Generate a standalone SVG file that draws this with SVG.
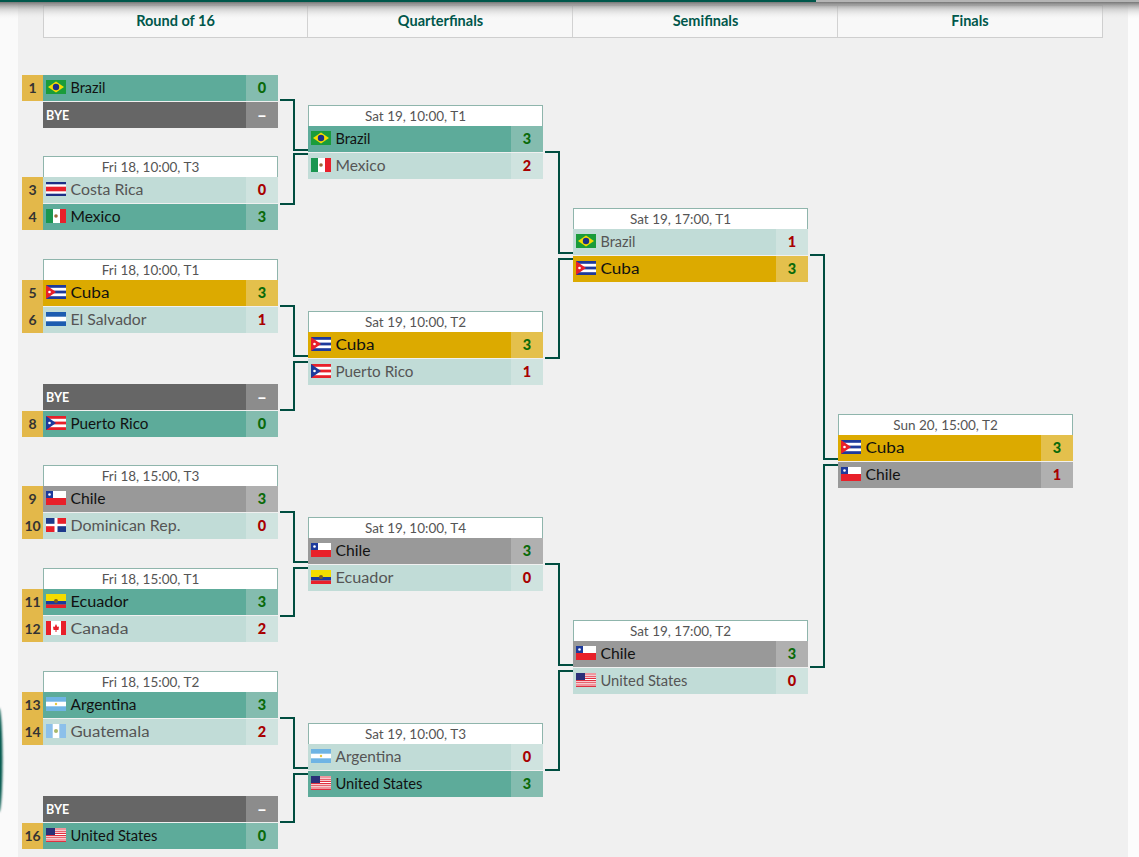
<svg xmlns="http://www.w3.org/2000/svg" width="1139" height="857" viewBox="0 0 1139 857">
<style>
text{font-family:"Lato","Liberation Sans",sans-serif;font-size:14.5px}
.t{fill:#111}.l{fill:#555}.b{fill:#fff;font-weight:700;font-size:12.500px}
.s{font-weight:900;text-anchor:middle}.w{fill:#0a6a0a}.x{fill:#a80000}.d{fill:#fff;text-anchor:middle;font-size:17px;font-weight:900}
.sd{font-weight:700;fill:#333;text-anchor:middle;font-size:14px}
.h{fill:#555;text-anchor:middle;font-size:13.5px}
.rh{fill:#00574b;font-weight:700;text-anchor:middle;font-size:14.5px}
.hb{fill:#fff;stroke:#8fb5ac;stroke-width:1}
.c{fill:none;stroke:#004d40;stroke-width:2}
.tl{fill:#5dab9a}.tls{fill:#84bcaf}.ll{fill:#c1dcd7}.lls{fill:#cfe3df}.gd{fill:#dcaa00}.gds{fill:#e4c04c}.gy{fill:#999}.gys{fill:#b0b0b0}.by{fill:#666}.bys{fill:#8c8c8c}.sc{fill:#e3b84a}
</style>
<defs>
<linearGradient id="sh" x1="0" y1="0" x2="0" y2="1"><stop offset="0" stop-color="#777"/><stop offset=".45" stop-color="#bbb" stop-opacity=".55"/><stop offset="1" stop-color="#f0f0f0" stop-opacity="0"/></linearGradient>
<filter id="bl" x="-100%" y="-10%" width="300%" height="120%"><feGaussianBlur stdDeviation="0.8"/></filter>
<symbol id="br" viewBox="0 0 20 14"><rect width="20" height="14" fill="#1a9c3a"/><path d="M10 1.5 18 7 10 12.500 2 7Z" fill="#f5dc00"/><circle cx="10" cy="7" r="3.200" fill="#1d2f86"/></symbol>
<symbol id="mx" viewBox="0 0 20 14"><rect width="7" height="14" fill="#1a9650"/><rect x="7" width="7" height="14" fill="#fff"/><rect x="14" width="6" height="14" fill="#e8202a"/><circle cx="10" cy="7" r="1.800" fill="#9a6a3a"/></symbol>
<symbol id="cr" viewBox="0 0 20 14"><rect width="20" height="14" fill="#1d2f86"/><rect y="2.300" width="20" height="9.400" fill="#fff"/><rect y="4.700" width="20" height="4.600" fill="#e8202a"/></symbol>
<symbol id="cu" viewBox="0 0 20 14"><rect width="20" height="14" fill="#1d3a9c"/><rect y="2.800" width="20" height="2.800" fill="#fff"/><rect y="8.400" width="20" height="2.800" fill="#fff"/><path d="M0 0 10 7 0 14Z" fill="#e8202a"/><circle cx="3.500" cy="7" r="1.300" fill="#fff"/></symbol>
<symbol id="sv" viewBox="0 0 20 14"><rect width="20" height="14" fill="#1d5cb0"/><rect y="4.700" width="20" height="4.600" fill="#fff"/></symbol>
<symbol id="pr" viewBox="0 0 20 14"><rect width="20" height="14" fill="#e8202a"/><rect y="2.800" width="20" height="2.800" fill="#fff"/><rect y="8.400" width="20" height="2.800" fill="#fff"/><path d="M0 0 10 7 0 14Z" fill="#1d3a9c"/><circle cx="3.500" cy="7" r="1.300" fill="#fff"/></symbol>
<symbol id="cl" viewBox="0 0 20 14"><rect width="20" height="7" fill="#fff"/><rect y="7" width="20" height="7" fill="#e8202a"/><rect width="7" height="7" fill="#1d3a9c"/><circle cx="3.500" cy="3.500" r="1.300" fill="#fff"/></symbol>
<symbol id="do" viewBox="0 0 20 14"><rect width="20" height="14" fill="#fff"/><rect width="8.500" height="5.800" fill="#1d3a8c"/><rect x="11.500" width="8.500" height="5.800" fill="#e8202a"/><rect y="8.200" width="8.500" height="5.800" fill="#e8202a"/><rect x="11.500" y="8.200" width="8.500" height="5.800" fill="#1d3a8c"/></symbol>
<symbol id="ec" viewBox="0 0 20 14"><rect width="20" height="7" fill="#f5dc00"/><rect y="7" width="20" height="3.500" fill="#1d3a9c"/><rect y="10.500" width="20" height="3.500" fill="#e8202a"/><circle cx="10" cy="7" r="2" fill="#7a5a20"/></symbol>
<symbol id="ca" viewBox="0 0 20 14"><rect width="20" height="14" fill="#fff"/><rect width="5" height="14" fill="#e8202a"/><rect x="15" width="5" height="14" fill="#e8202a"/><path d="M10 3 11.500 6 13 5.500 12.500 9 10.500 9 10.500 11 9.500 11 9.500 9 7.500 9 7 5.500 8.500 6Z" fill="#e8202a"/></symbol>
<symbol id="ar" viewBox="0 0 20 14"><rect width="20" height="14" fill="#6fb4e4"/><rect y="4.700" width="20" height="4.600" fill="#fff"/><circle cx="10" cy="7" r="1.200" fill="#e8c840"/></symbol>
<symbol id="gt" viewBox="0 0 20 14"><rect width="20" height="14" fill="#8cc0ea"/><rect x="6.700" width="6.600" height="14" fill="#fff"/><circle cx="10" cy="7" r="2" fill="#a8b86a"/></symbol>
<symbol id="us" viewBox="0 0 20 14"><rect width="20" height="14" fill="#fff"/><path d="M0 1h20M0 3.200h20M0 5.400h20M0 7.600h20M0 9.800h20M0 12h20" stroke="#e03040" stroke-width="1.100"/><rect y="13" width="20" height="1" fill="#e03040"/><rect width="9" height="7" fill="#2a2f78"/></symbol>
</defs>
<rect width="1139" height="857" fill="#f0f0f0"/>
<rect width="18" height="857" fill="#fafafa"/>
<rect x="1128" width="11" height="857" fill="#fcfcfc"/>
<g id="header">
<rect x="43.500" y="5.500" width="1059" height="32" fill="#f8f8f8" stroke="#cfcfcf"/>
<path d="M307.500 5V37M572.500 5V37M837.500 5V37" stroke="#d2d2d2"/>
</g>
<rect y="2" width="1139" height="17" fill="url(#sh)"/>
<rect width="816" height="2" fill="#00574b"/>
<rect x="816" width="323" height="2" fill="#b5b5b5"/>
<ellipse cx="-1" cy="760" rx="3.500" ry="52" fill="#00574b" filter="url(#bl)"/>
<g id="round-labels"><text class="rh" x="175.500" y="26">Round of 16</text><text class="rh" x="440.500" y="26">Quarterfinals</text><text class="rh" x="705.500" y="26">Semifinals</text><text class="rh" x="970" y="26">Finals</text></g>
<g id="connectors">
<path class="c" d="M280 100H294V150H308M280 204H294V154H308"/>
<path class="c" d="M280 306H294V356H308M280 410H294V362H308"/>
<path class="c" d="M280 512H294V562H308M280 616H294V568H308"/>
<path class="c" d="M280 718H294V768H308M280 822H294V774H308"/>
<path class="c" d="M545 152H559V253H573M545 358H559V259H573"/>
<path class="c" d="M545 564H559V665H573M545 770H559V671H573"/>
<path class="c" d="M810 255H824V459H838M810 667H824V465H838"/>
</g>
<g id="m1"><rect class="sc" x="22" y="75" width="21" height="26"/><text class="sd" x="32.500" y="93">1</text><rect class="tl" x="43" y="75" width="203" height="26"/><rect class="tls" x="246" y="75" width="32" height="26"/><use href="#br" x="46" y="80" width="20" height="14"/><text class="t" x="70.500" y="93" textLength="35" lengthAdjust="spacingAndGlyphs">Brazil</text><text class="s w" x="262" y="93">0</text>
<rect class="by" x="43" y="102" width="203" height="26"/><rect class="bys" x="246" y="102" width="32" height="26"/><text class="b" x="46" y="120">BYE</text><text class="d" x="262" y="121">–</text></g>
<g id="m2"><rect class="hb" x="43.500" y="156.500" width="234" height="21"/><text class="h" x="150.500" y="172">Fri 18, 10:00, T3</text><rect class="sc" x="22" y="177" width="21" height="53"/><text class="sd" x="32.500" y="195">3</text><text class="sd" x="32.500" y="222">4</text><rect class="ll" x="43" y="177" width="203" height="26"/><rect class="lls" x="246" y="177" width="32" height="26"/><use href="#cr" x="46" y="182" width="20" height="14"/><text class="l" x="70.500" y="195" textLength="73" lengthAdjust="spacingAndGlyphs">Costa Rica</text><text class="s x" x="262" y="195">0</text><rect class="tl" x="43" y="204" width="203" height="26"/><rect class="tls" x="246" y="204" width="32" height="26"/><use href="#mx" x="46" y="209" width="20" height="14"/><text class="t" x="70.500" y="222" textLength="50" lengthAdjust="spacingAndGlyphs">Mexico</text><text class="s w" x="262" y="222">3</text></g>
<g id="m3"><rect class="hb" x="43.500" y="259.500" width="234" height="21"/><text class="h" x="150.500" y="275">Fri 18, 10:00, T1</text><rect class="sc" x="22" y="280" width="21" height="53"/><text class="sd" x="32.500" y="298">5</text><text class="sd" x="32.500" y="325">6</text><rect class="gd" x="43" y="280" width="203" height="26"/><rect class="gds" x="246" y="280" width="32" height="26"/><use href="#cu" x="46" y="285" width="20" height="14"/><text class="t" x="70.500" y="298" textLength="39" lengthAdjust="spacingAndGlyphs">Cuba</text><text class="s w" x="262" y="298">3</text><rect class="ll" x="43" y="307" width="203" height="26"/><rect class="lls" x="246" y="307" width="32" height="26"/><use href="#sv" x="46" y="312" width="20" height="14"/><text class="l" x="70.500" y="325" textLength="76" lengthAdjust="spacingAndGlyphs">El Salvador</text><text class="s x" x="262" y="325">1</text></g>
<g id="m4"><rect class="by" x="43" y="384" width="203" height="26"/><rect class="bys" x="246" y="384" width="32" height="26"/><text class="b" x="46" y="402">BYE</text><text class="d" x="262" y="403">–</text><rect class="sc" x="22" y="411" width="21" height="26"/><text class="sd" x="32.500" y="429">8</text><rect class="tl" x="43" y="411" width="203" height="26"/><rect class="tls" x="246" y="411" width="32" height="26"/><use href="#pr" x="46" y="416" width="20" height="14"/><text class="t" x="70.500" y="429" textLength="78" lengthAdjust="spacingAndGlyphs">Puerto Rico</text><text class="s w" x="262" y="429">0</text></g>
<g id="m5"><rect class="hb" x="43.500" y="465.500" width="234" height="21"/><text class="h" x="150.500" y="481">Fri 18, 15:00, T3</text><rect class="sc" x="22" y="486" width="21" height="53"/><text class="sd" x="32.500" y="504">9</text><text class="sd" x="32.500" y="531">10</text><rect class="gy" x="43" y="486" width="203" height="26"/><rect class="gys" x="246" y="486" width="32" height="26"/><use href="#cl" x="46" y="491" width="20" height="14"/><text class="t" x="70.500" y="504" textLength="35" lengthAdjust="spacingAndGlyphs">Chile</text><text class="s w" x="262" y="504">3</text><rect class="ll" x="43" y="513" width="203" height="26"/><rect class="lls" x="246" y="513" width="32" height="26"/><use href="#do" x="46" y="518" width="20" height="14"/><text class="l" x="70.500" y="531" textLength="110" lengthAdjust="spacingAndGlyphs">Dominican Rep.</text><text class="s x" x="262" y="531">0</text></g>
<g id="m6"><rect class="hb" x="43.500" y="568.500" width="234" height="21"/><text class="h" x="150.500" y="584">Fri 18, 15:00, T1</text><rect class="sc" x="22" y="589" width="21" height="53"/><text class="sd" x="32.500" y="607">11</text><text class="sd" x="32.500" y="634">12</text><rect class="tl" x="43" y="589" width="203" height="26"/><rect class="tls" x="246" y="589" width="32" height="26"/><use href="#ec" x="46" y="594" width="20" height="14"/><text class="t" x="70.500" y="607" textLength="58" lengthAdjust="spacingAndGlyphs">Ecuador</text><text class="s w" x="262" y="607">3</text><rect class="ll" x="43" y="616" width="203" height="26"/><rect class="lls" x="246" y="616" width="32" height="26"/><use href="#ca" x="46" y="621" width="20" height="14"/><text class="l" x="70.500" y="634" textLength="58" lengthAdjust="spacingAndGlyphs">Canada</text><text class="s x" x="262" y="634">2</text></g>
<g id="m7"><rect class="hb" x="43.500" y="671.500" width="234" height="21"/><text class="h" x="150.500" y="687">Fri 18, 15:00, T2</text><rect class="sc" x="22" y="692" width="21" height="53"/><text class="sd" x="32.500" y="710">13</text><text class="sd" x="32.500" y="737">14</text><rect class="tl" x="43" y="692" width="203" height="26"/><rect class="tls" x="246" y="692" width="32" height="26"/><use href="#ar" x="46" y="697" width="20" height="14"/><text class="t" x="70.500" y="710" textLength="66" lengthAdjust="spacingAndGlyphs">Argentina</text><text class="s w" x="262" y="710">3</text><rect class="ll" x="43" y="719" width="203" height="26"/><rect class="lls" x="246" y="719" width="32" height="26"/><use href="#gt" x="46" y="724" width="20" height="14"/><text class="l" x="70.500" y="737" textLength="79" lengthAdjust="spacingAndGlyphs">Guatemala</text><text class="s x" x="262" y="737">2</text></g>
<g id="m8"><rect class="by" x="43" y="796" width="203" height="26"/><rect class="bys" x="246" y="796" width="32" height="26"/><text class="b" x="46" y="814">BYE</text><text class="d" x="262" y="815">–</text><rect class="sc" x="22" y="823" width="21" height="26"/><text class="sd" x="32.500" y="841">16</text><rect class="tl" x="43" y="823" width="203" height="26"/><rect class="tls" x="246" y="823" width="32" height="26"/><use href="#us" x="46" y="828" width="20" height="14"/><text class="t" x="70.500" y="841" textLength="87" lengthAdjust="spacingAndGlyphs">United States</text><text class="s w" x="262" y="841">0</text></g>
<g id="q1"><rect class="hb" x="308.500" y="105.500" width="234" height="21"/><text class="h" x="415.500" y="121">Sat 19, 10:00, T1</text><rect class="tl" x="308" y="126" width="203" height="26"/><rect class="tls" x="511" y="126" width="32" height="26"/><use href="#br" x="311" y="131" width="20" height="14"/><text class="t" x="335.500" y="144" textLength="35" lengthAdjust="spacingAndGlyphs">Brazil</text><text class="s w" x="527" y="144">3</text><rect class="ll" x="308" y="153" width="203" height="26"/><rect class="lls" x="511" y="153" width="32" height="26"/><use href="#mx" x="311" y="158" width="20" height="14"/><text class="l" x="335.500" y="171" textLength="50" lengthAdjust="spacingAndGlyphs">Mexico</text><text class="s x" x="527" y="171">2</text></g>
<g id="q2"><rect class="hb" x="308.500" y="311.500" width="234" height="21"/><text class="h" x="415.500" y="327">Sat 19, 10:00, T2</text><rect class="gd" x="308" y="332" width="203" height="26"/><rect class="gds" x="511" y="332" width="32" height="26"/><use href="#cu" x="311" y="337" width="20" height="14"/><text class="t" x="335.500" y="350" textLength="39" lengthAdjust="spacingAndGlyphs">Cuba</text><text class="s w" x="527" y="350">3</text><rect class="ll" x="308" y="359" width="203" height="26"/><rect class="lls" x="511" y="359" width="32" height="26"/><use href="#pr" x="311" y="364" width="20" height="14"/><text class="l" x="335.500" y="377" textLength="78" lengthAdjust="spacingAndGlyphs">Puerto Rico</text><text class="s x" x="527" y="377">1</text></g>
<g id="q3"><rect class="hb" x="308.500" y="517.500" width="234" height="21"/><text class="h" x="415.500" y="533">Sat 19, 10:00, T4</text><rect class="gy" x="308" y="538" width="203" height="26"/><rect class="gys" x="511" y="538" width="32" height="26"/><use href="#cl" x="311" y="543" width="20" height="14"/><text class="t" x="335.500" y="556" textLength="35" lengthAdjust="spacingAndGlyphs">Chile</text><text class="s w" x="527" y="556">3</text><rect class="ll" x="308" y="565" width="203" height="26"/><rect class="lls" x="511" y="565" width="32" height="26"/><use href="#ec" x="311" y="570" width="20" height="14"/><text class="l" x="335.500" y="583" textLength="58" lengthAdjust="spacingAndGlyphs">Ecuador</text><text class="s x" x="527" y="583">0</text></g>
<g id="q4"><rect class="hb" x="308.500" y="723.500" width="234" height="21"/><text class="h" x="415.500" y="739">Sat 19, 10:00, T3</text><rect class="ll" x="308" y="744" width="203" height="26"/><rect class="lls" x="511" y="744" width="32" height="26"/><use href="#ar" x="311" y="749" width="20" height="14"/><text class="l" x="335.500" y="762" textLength="66" lengthAdjust="spacingAndGlyphs">Argentina</text><text class="s x" x="527" y="762">0</text><rect class="tl" x="308" y="771" width="203" height="26"/><rect class="tls" x="511" y="771" width="32" height="26"/><use href="#us" x="311" y="776" width="20" height="14"/><text class="t" x="335.500" y="789" textLength="87" lengthAdjust="spacingAndGlyphs">United States</text><text class="s w" x="527" y="789">3</text></g>
<g id="s1"><rect class="hb" x="573.500" y="208.500" width="234" height="21"/><text class="h" x="680.500" y="224">Sat 19, 17:00, T1</text><rect class="ll" x="573" y="229" width="203" height="26"/><rect class="lls" x="776" y="229" width="32" height="26"/><use href="#br" x="576" y="234" width="20" height="14"/><text class="l" x="600.500" y="247" textLength="35" lengthAdjust="spacingAndGlyphs">Brazil</text><text class="s x" x="792" y="247">1</text><rect class="gd" x="573" y="256" width="203" height="26"/><rect class="gds" x="776" y="256" width="32" height="26"/><use href="#cu" x="576" y="261" width="20" height="14"/><text class="t" x="600.500" y="274" textLength="39" lengthAdjust="spacingAndGlyphs">Cuba</text><text class="s w" x="792" y="274">3</text></g>
<g id="s2"><rect class="hb" x="573.500" y="620.500" width="234" height="21"/><text class="h" x="680.500" y="636">Sat 19, 17:00, T2</text><rect class="gy" x="573" y="641" width="203" height="26"/><rect class="gys" x="776" y="641" width="32" height="26"/><use href="#cl" x="576" y="646" width="20" height="14"/><text class="t" x="600.500" y="659" textLength="35" lengthAdjust="spacingAndGlyphs">Chile</text><text class="s w" x="792" y="659">3</text><rect class="ll" x="573" y="668" width="203" height="26"/><rect class="lls" x="776" y="668" width="32" height="26"/><use href="#us" x="576" y="673" width="20" height="14"/><text class="l" x="600.500" y="686" textLength="87" lengthAdjust="spacingAndGlyphs">United States</text><text class="s x" x="792" y="686">0</text></g>
<g id="f1"><rect class="hb" x="838.500" y="414.500" width="234" height="21"/><text class="h" x="945.500" y="430">Sun 20, 15:00, T2</text><rect class="gd" x="838" y="435" width="203" height="26"/><rect class="gds" x="1041" y="435" width="32" height="26"/><use href="#cu" x="841" y="440" width="20" height="14"/><text class="t" x="865.500" y="453" textLength="39" lengthAdjust="spacingAndGlyphs">Cuba</text><text class="s w" x="1057" y="453">3</text><rect class="gy" x="838" y="462" width="203" height="26"/><rect class="gys" x="1041" y="462" width="32" height="26"/><use href="#cl" x="841" y="467" width="20" height="14"/><text class="t" x="865.500" y="480" textLength="35" lengthAdjust="spacingAndGlyphs">Chile</text><text class="s x" x="1057" y="480">1</text></g>
</svg>
